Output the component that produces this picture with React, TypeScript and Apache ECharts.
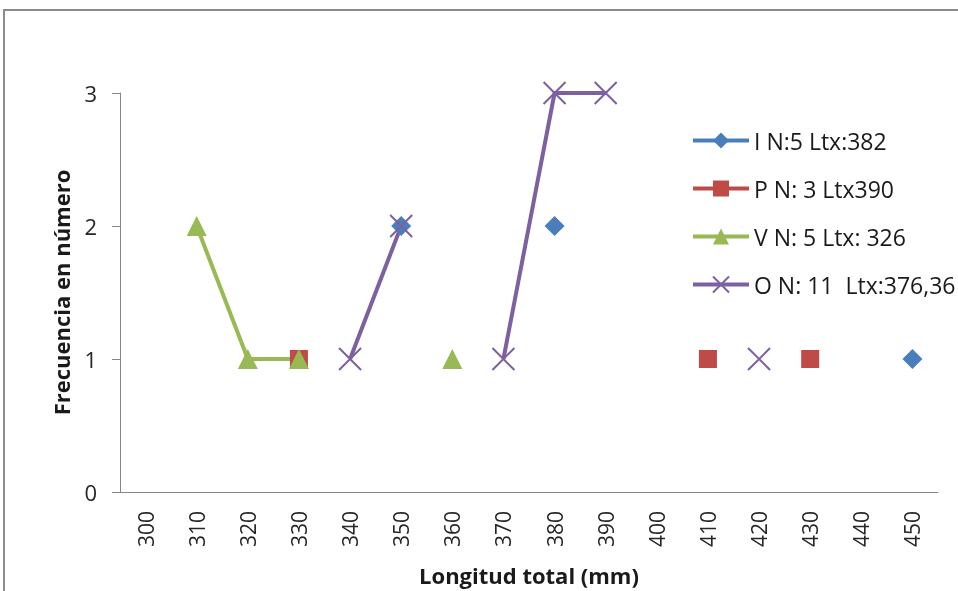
import React, { useEffect, useRef } from "react";
import * as echarts from "echarts";

const categories = ["300", "310", "320", "330", "340", "350", "360", "370", "380", "390", "400", "410", "420", "430", "440", "450"];
const seriesNames = ["I N:5 Ltx:382", "P N: 3 Ltx390", "V N: 5 Ltx: 326", "O N: 11  Ltx:376,36"];
const seriesI = [null, null, null, null, null, 2, null, null, 2, null, null, null, null, null, null, 1];
const seriesP = [null, null, null, 1, null, null, null, null, null, null, null, 1, null, 1, null, null];
const seriesV = [null, 2, 1, 1, null, null, 1, null, null, null, null, null, null, null, null, null];
const seriesO = [null, null, null, null, 1, 2, null, 1, 3, 3, null, null, 1, null, null, null];
const yTicks = [0, 1, 2, 3];

const FONT = "'Open Sans', 'Noto Sans', sans-serif";

export default function App() {
  const ref = useRef<HTMLDivElement>(null);
  useEffect(() => {
    if (!ref.current) return;
    const chart = echarts.init(ref.current, null, { renderer: "svg" });
    const mk = (name: string, data: any[], color: string, symbol: string, size: number) => ({
      name,
      type: "line",
      data,
      connectNulls: false,
      symbol,
      symbolSize: size,
      lineStyle: { color, width: 4 },
      itemStyle: { color },
      emphasis: { disabled: true },
    });
    chart.setOption({
      animation: false,
      textStyle: { fontFamily: FONT },
      graphic: [
        {
          type: "rect",
          shape: { x: 4, y: 10, width: 1000, height: 700 },
          style: { fill: "none", stroke: "#8c8c8c", lineWidth: 2 },
          silent: true,
        },
      ],
      grid: { left: 120, right: 20, top: 93, bottom: 98, containLabel: false },
      legend: {
        orient: "vertical",
        left: 686,
        top: 124,
        itemWidth: 56,
        itemHeight: 20,
        itemGap: 25,
        lineStyle: { width: 4 },
        textStyle: { fontSize: 23, color: "#1a1a1a", fontFamily: FONT },
        data: seriesNames,
      },
      xAxis: {
        type: "category",
        data: categories,
        boundaryGap: true,
        axisLine: { lineStyle: { color: "#868686", width: 1 } },
        axisTick: { show: false },
        axisLabel: { rotate: 90, fontSize: 21, color: "#262626", margin: 19, fontFamily: FONT },
        name: "Longitud total (mm)",
        nameLocation: "middle",
        nameGap: 72,
        nameTextStyle: { fontSize: 22, fontWeight: "bold", color: "#1a1a1a", fontFamily: FONT },
      },
      yAxis: {
        type: "value",
        min: yTicks[0],
        max: yTicks[yTicks.length - 1],
        interval: 1,
        splitLine: { show: false },
        axisLine: { show: true, lineStyle: { color: "#868686", width: 1 } },
        axisTick: { show: true, length: 8, lineStyle: { color: "#868686" } },
        axisLabel: { fontSize: 22, color: "#262626", margin: 23, fontFamily: FONT },
        name: "Frecuencia en número",
        nameLocation: "middle",
        nameGap: 48,
        nameTextStyle: { fontSize: 22, fontWeight: "bold", color: "#1a1a1a", fontFamily: FONT },
      },
      series: [
        mk(seriesNames[0], seriesI, "#4a7ebb", "diamond", 20),
        mk(seriesNames[1], seriesP, "#be4b48", "rect", 18),
        mk(seriesNames[2], seriesV, "#98b954", "triangle", 20),
        {
          ...mk(seriesNames[3], seriesO, "#7d60a0", "path://M0,0L10,10M10,0L0,10", 22),
          itemStyle: { color: "#7d60a0", borderColor: "#7d60a0", borderWidth: 2 },
        },
      ],
    });
    return () => chart.dispose();
  }, []);
  return <div ref={ref} style={{ position: "fixed", left: 0, top: 0, width: 958, height: 591 }} />;
}
